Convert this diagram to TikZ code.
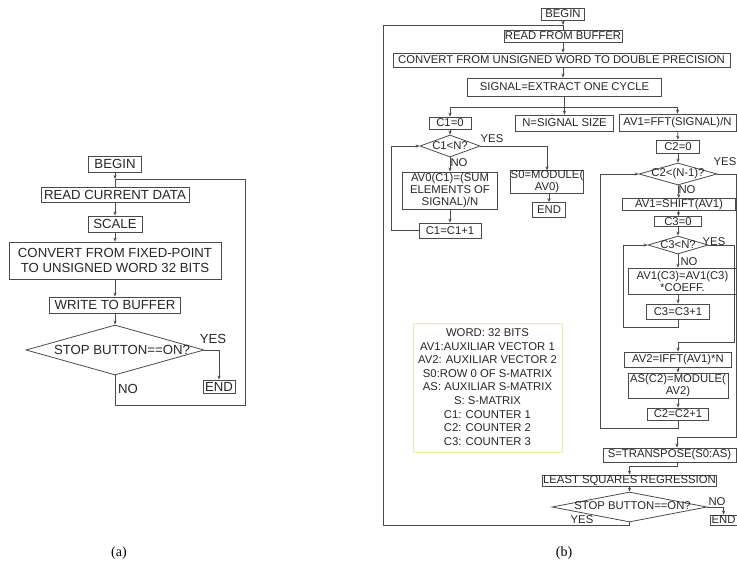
\documentclass[tikz,border=0pt]{standalone}
\usepackage{fontspec}
\setmainfont{Liberation Sans}
\newfontfamily\capfont{Liberation Serif}
\usetikzlibrary{shapes.geometric,arrows.meta}
\definecolor{ln}{HTML}{4A4A4A}
\definecolor{tx}{HTML}{262626}
\definecolor{leg}{HTML}{EDEDA6}
\begin{document}
\begin{tikzpicture}[x=1pt,y=-1pt,
  box/.style={draw=ln,line width=0.8pt,inner sep=0pt,align=center,text=tx},
  fa/.style={font=\fontsize{13.2}{15}\selectfont},
  fb/.style={font=\fontsize{11.3}{12}\selectfont},
  dia/.style={draw=ln,line width=0.8pt,diamond,inner sep=0pt},
  lab/.style={inner sep=0pt,text=tx},
  arr/.style={-{Stealth[length=4pt,width=3.2pt]}},
  con/.style={draw=ln,line width=0.8pt}]
\useasboundingbox (0,0) rectangle (737,582);

% ---------------- (a) ----------------
\node[box,fa,minimum width=53pt,minimum height=16pt] (a1) at (115,164) {BEGIN};
\node[box,fa,minimum width=148pt,minimum height=15pt] (a2) at (115,194.5) {READ CURRENT DATA};
\node[box,fa,minimum width=54pt,minimum height=16pt] (a3) at (115,224) {SCALE};
\node[box,fa,minimum width=212pt,minimum height=37pt] (a4) at (115,260.5) {CONVERT FROM FIXED-POINT\\TO UNSIGNED WORD 32 BITS};
\node[box,fa,minimum width=131pt,minimum height=16pt] (a5) at (115,305) {WRITE TO BUFFER};
\node[dia,minimum width=178pt,minimum height=50pt] (a6) at (115,350) {};
\node[lab,fa] (a6t) at (122,350) {STOP BUTTON==ON?};
\node[box,fa,minimum width=32pt,minimum height=13pt] (a7) at (219,386.5) {END};
\node[lab,fa] (ay) at (213,339) {YES};
\node[lab,fa] (an) at (128,389) {NO};
\coordinate (ja) at (115,179);
\coordinate (ra) at (245,405);

\draw[con,arr] (a1) -- (ja);
\draw[con] (ja) -- (a2.north);
\draw[con,arr] (a2) -- (a3);
\draw[con,arr] (a3) -- (a4);
\draw[con,arr] (a4) -- (a5);
\draw[con,arr] (a5) -- (a6);
\draw[con,arr] (a6.east) -| (a7.north);
\draw[con] (a6.south) |- (ra) |- (ja);

% ---------------- (b) ----------------
\node[box,fb,minimum width=43pt,minimum height=12pt] (b1) at (563,14) {BEGIN};
\node[box,fb,minimum width=118pt,minimum height=12pt] (b2) at (563,36) {READ FROM BUFFER};
\node[box,fb,minimum width=337pt,minimum height=14pt] (b3) at (561.5,60) {CONVERT FROM UNSIGNED WORD TO DOUBLE PRECISION};
\node[box,fb,minimum width=194pt,minimum height=18pt] (b4) at (564.5,87) {SIGNAL=EXTRACT ONE CYCLE};
\coordinate (jb) at (563,25);
\coordinate (br) at (564.5,107);

\node[box,fb,minimum width=42pt,minimum height=12pt] (b5) at (450,123) {C1=0};
\node[box,fb,minimum width=98pt,minimum height=16pt] (b6) at (564.5,123) {N=SIGNAL SIZE};
\node[box,fb,minimum width=117pt,minimum height=17pt] (b7) at (677.5,122.5) {AV1=FFT(SIGNAL)/N};

% left column
\node[dia,minimum width=60pt,minimum height=22pt] (b8) at (450,146) {};
\node[lab,fb] (b8t) at (450,146) {C1<N?};
\node[lab,fb] (b8y) at (492,139) {YES};
\node[lab,fb] (b8n) at (459,163) {NO};
\node[box,fb,minimum width=72pt,minimum height=22pt] (b9) at (547,182) {S0=MODULE(\\AV0)};
\node[box,fb,minimum width=33pt,minimum height=15pt] (b10) at (549,210) {END};
\node[box,fb,minimum width=95pt,minimum height=37pt] (b11) at (450,190.5) {AV0(C1)=(SUM\\ELEMENTS OF\\SIGNAL)/N};
\node[box,fb,minimum width=62pt,minimum height=15pt] (b12) at (450,230.5) {C1=C1+1};
\coordinate (lc1) at (391,230.5);

% right column
\node[box,fb,minimum width=43pt,minimum height=13pt] (b13) at (678,146.5) {C2=0};
\node[dia,minimum width=78pt,minimum height=22pt] (b14) at (678,174) {};
\node[lab,fb] (b14t) at (678,174) {C2<(N-1)?};
\node[lab,fb] (b14y) at (725,162) {YES};
\node[lab,fb] (b14n) at (687,190) {NO};
\node[box,fb,minimum width=113pt,minimum height=12pt] (b15) at (679,204.5) {AV1=SHIFT(AV1)};
\node[box,fb,minimum width=47pt,minimum height=10pt] (b16) at (678,221.5) {C3=0};
\node[dia,minimum width=60pt,minimum height=18pt] (b17) at (678,245) {};
\node[lab,fb] (b17t) at (678,245) {C3<N?};
\node[lab,fb] (b17y) at (714,242) {YES};
\node[lab,fb] (b17n) at (689,262) {NO};
\node[box,fb,minimum width=109pt,minimum height=26pt] (b18) at (682.5,281) {AV1(C3)=AV1(C3)\\*COEFF.};
\node[box,fb,minimum width=63pt,minimum height=15pt] (b19) at (678,311.5) {C3=C3+1};
\node[box,fb,minimum width=107pt,minimum height=15pt] (b21) at (678,359.5) {AV2=IFFT(AV1)*N};
\node[box,fb,minimum width=100pt,minimum height=25pt] (b22) at (678,385.5) {AS(C2)=MODULE(\\AV2)};
\node[box,fb,minimum width=61pt,minimum height=12pt] (b23) at (678,414) {C2=C2+1};
\node[box,fb,minimum width=133pt,minimum height=14pt] (b24) at (669.5,455) {S=TRANSPOSE(S0:AS)};
\node[box,fb,minimum width=174pt,minimum height=11pt] (b25) at (629.5,480.5) {LEAST SQUARES REGRESSION};
\node[dia,minimum width=155pt,minimum height=30pt] (b26) at (629.5,507) {};
\node[lab,fb] (b26t) at (632.5,506) {STOP BUTTON==ON?};
\node[lab,fb] (b26n) at (717,502) {NO};
\node[lab,fb] (b26y) at (582,520) {YES};
\node[box,fb,minimum width=27pt,minimum height=10pt] (b27) at (723.5,520) {END};

\coordinate (c3r) at (734.5,342);
\coordinate (c2r) at (736.5,437);
\coordinate (t24) at (677,437);
\coordinate (c3l) at (623,327);
\coordinate (c2l) at (600,428);
\coordinate (lb) at (383,525);

% legend
\node[draw=leg,line width=1pt,minimum width=149pt,minimum height=129pt,inner sep=0pt] (leg) at (487.5,387.5) {};
\node[lab,align=center,font=\fontsize{11.3}{13.6}\selectfont] (legt) at (487.5,387) {WORD: 32 BITS\\AV1:AUXILIAR VECTOR 1\\AV2: AUXILIAR VECTOR 2\\S0:ROW 0 OF S-MATRIX\\AS: AUXILIAR S-MATRIX\\S: S-MATRIX\\C1: COUNTER 1\\C2: COUNTER 2\\C3: COUNTER 3};

% connectors (b)
\draw[con,arr] (b1) -- (jb);
\draw[con] (jb) -- (b2.north);
\draw[con,arr] (b2.south) -- (b2.south |- b3.north);
\draw[con,arr] (b3.south -| jb) -- (jb |- b4.north);
\draw[con] (b4.south) -- (br);
\draw[con,arr] (br) -| (b5.north);
\draw[con,arr] (br) -- (b6.north);
\draw[con,arr] (br) -| (b7.north);

\draw[con,arr] (b5) -- (b8);
\draw[con,arr] (b8) -- (b11);
\draw[con,arr] (b11) -- (b12);
\draw[con,arr] (b12.west) -- (lc1) |- (b8.west);
\draw[con,arr] (b8.east) -| (b9.north);
\draw[con,arr] (b9.south -| b10.north) -- (b10.north);

\draw[con,arr] (b7) -- (b13);
\draw[con,arr] (b13) -- (b14);
\draw[con,arr] (b14) -- (b15);
\draw[con,arr] (b15) -- (b16);
\draw[con,arr] (b16) -- (b17);
\draw[con,arr] (b17.south) -- (b17.south |- b18.north);
\draw[con,arr] (b18.south -| b19.north) -- (b19.north);
\draw[con,arr] (b19.south) |- (c3l) |- (b17.west);
\draw[con,arr] (b17.east) -| (c3r) -| (b21.north);
\draw[con,arr] (b21) -- (b22);
\draw[con,arr] (b22) -- (b23);
\draw[con,arr] (b23.south) |- (c2l) |- (b14.west);
\draw[con,arr] (b14.east) -| (c2r) -- (t24) -- (t24 |- b24.north);
\draw[con,arr] (b24.south -| t24) -- ++(0,4) -| (b25.north);
\draw[con,arr] (b25) -- (b26);
\draw[con,arr] (b26.east) -| (b27.north);
\draw[con] (b26.south) |- (lb) |- (jb);

% captions
\node[inner sep=0pt,font=\capfont\fontsize{14}{16}\selectfont] (capa) at (119,553) {(a)};
\node[inner sep=0pt,font=\capfont\fontsize{14}{16}\selectfont] (capb) at (564,553) {(b)};
\end{tikzpicture}
\end{document}
